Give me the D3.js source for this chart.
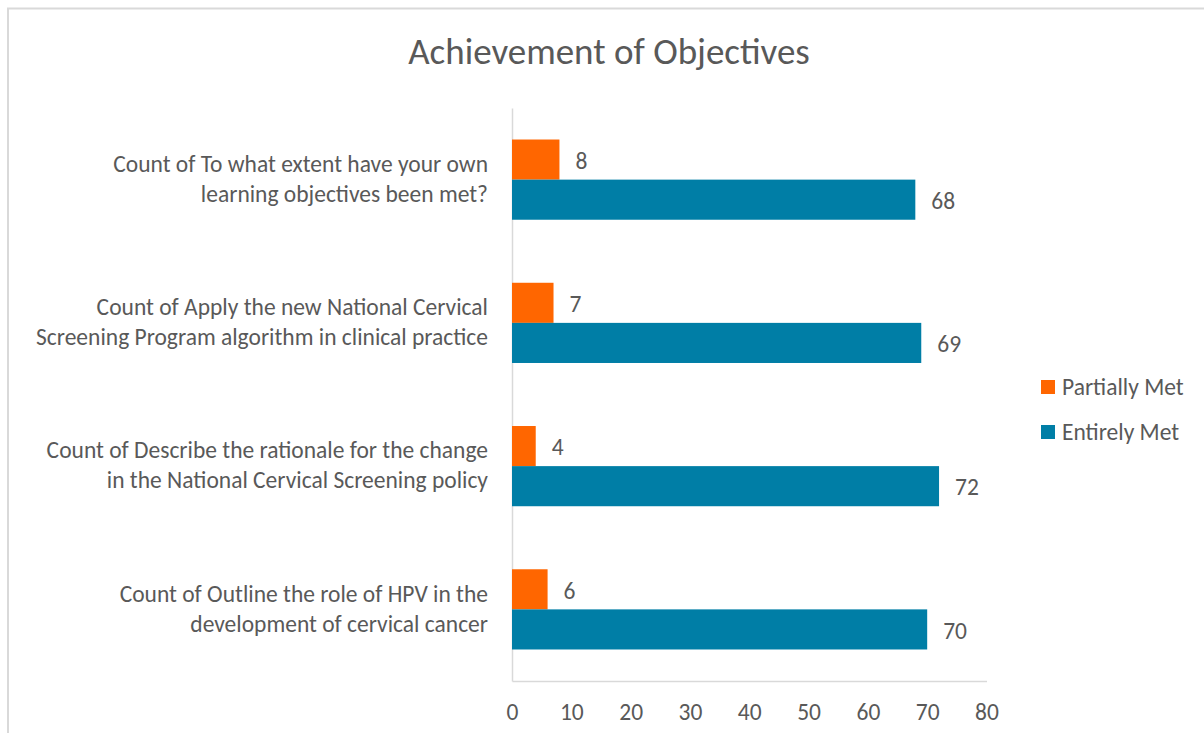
<!DOCTYPE html>
<html>
<head>
<meta charset="utf-8">
<script src="https://cdn.jsdelivr.net/npm/d3@7"></script>
<style>
  html, body { margin: 0; padding: 0; background: #fff; overflow: hidden; }
  svg { display: block; font-family: Calibri, Carlito, Lato, sans-serif; }
</style>
</head>
<body>
<div class="chart-container"></div>
<script>
// data
const categories = [
    "Count of To what extent have your own|learning objectives been met?",
    "Count of Apply the new National Cervical|Screening Program algorithm in clinical practice",
    "Count of Describe the rationale for the change|in the National Cervical Screening policy",
    "Count of Outline the role of HPV in the|development of cervical cancer"
];
const seriesNames = ["Partially Met", "Entirely Met"];
const partiallyMet = [8, 7, 4, 6];
const entirelyMet = [68, 69, 72, 70];
const xTickValues = [0, 10, 20, 30, 40, 50, 60, 70, 80];
const chartTitle = "Achievement of Objectives";

function drawChart() {
    const width = 1204,
        height = 733;
    const margin = { top: 108, right: 218, bottom: 52, left: 512 };
    const colors = ["#ff6600", "#007ea6"];
    const textColor = "#595959";
    const lineColor = "#d9d9d9";
    const fontSize = "23.5px";

    const data = categories.map((c, i) => ({
        name: c,
        values: [partiallyMet[i], entirelyMet[i]]
    }));

    const svg = d3.select(".chart-container").append("svg")
        .attr("width", width)
        .attr("height", height);

    // chart area border (runs off the right and bottom edges)
    svg.append("rect")
        .attr("x", 8)
        .attr("y", 8.5)
        .attr("width", 1300)
        .attr("height", 900)
        .attr("fill", "#fff")
        .attr("stroke", lineColor)
        .attr("stroke-width", 2);

    svg.append("text")
        .attr("x", 609)
        .attr("y", 64)
        .attr("text-anchor", "middle")
        .attr("fill", textColor)
        .style("font-size", "37px")
        .text(chartTitle);

    const x = d3.scaleLinear()
        .domain([0, 80])
        .range([margin.left, width - margin.right + 0.5]);

    const y = d3.scaleBand()
        .domain(d3.range(data.length))
        .range([margin.top, height - margin.bottom])
        .paddingInner(0.44)
        .paddingOuter(0.22);

    const ySub = d3.scaleBand()
        .domain(d3.range(seriesNames.length))
        .range([0, y.bandwidth()]);

    const xAxis = g =>
        g.attr("transform", `translate(0, ${height - margin.bottom})`)
        .call(d3.axisBottom(x).tickValues(xTickValues).tickSize(0).tickPadding(22))
        .call(g => g.select(".domain").attr("stroke", lineColor).attr("stroke-width", 1.5))
        .call(g => g.selectAll("text")
            .attr("fill", textColor)
            .style("font-size", fontSize)
            .style("font-family", "Calibri, Carlito, Lato, sans-serif"));

    const yAxis = g =>
        g.attr("transform", `translate(${margin.left}, 0)`)
        .call(d3.axisLeft(y).tickSize(0).tickFormat(""))
        .call(g => g.select(".domain").attr("stroke", lineColor).attr("stroke-width", 1.5));

    svg.append("g").call(xAxis);
    svg.append("g").call(yAxis);

    // wrapped category labels
    const labels = svg.append("g").selectAll("text")
        .data(data)
        .join("text")
            .attr("text-anchor", "end")
            .attr("fill", textColor)
            .style("font-size", fontSize)
            .attr("transform", (d, i) => `translate(488, ${y(i) + y.bandwidth() / 2})`);

    labels.selectAll("tspan")
        .data(d => d.name.split("|"))
        .join("tspan")
            .attr("x", 0)
            .attr("y", (t, j) => (j - 0.5) * 30 - 1)
            .attr("dy", "0.35em")
            .text(t => t);

    const groups = svg.append("g").selectAll("g")
        .data(data)
        .join("g")
            .attr("transform", (d, i) => `translate(0, ${y(i)})`);

    groups.selectAll("rect")
        .data(d => d.values)
        .join("rect")
            .attr("x", x(0))
            .attr("y", (v, j) => ySub(j))
            .attr("width", v => x(v) - x(0))
            .attr("height", ySub.bandwidth())
            .attr("fill", (v, j) => colors[j]);

    groups.selectAll("text")
        .data(d => d.values)
        .join("text")
            .attr("x", v => x(v) + 16)
            .attr("y", (v, j) => ySub(j) + ySub.bandwidth() / 2 + 1)
            .attr("dy", "0.35em")
            .attr("fill", textColor)
            .style("font-size", fontSize)
            .text(v => v);

    // legend
    const legend = svg.append("g").selectAll("g")
        .data(seriesNames)
        .join("g")
            .attr("transform", (d, i) => `translate(1041, ${387 + i * 45})`);

    legend.append("rect")
        .attr("x", 0)
        .attr("y", -7)
        .attr("width", 14)
        .attr("height", 14)
        .attr("fill", (d, i) => colors[i]);

    legend.append("text")
        .attr("x", 21)
        .attr("y", 0)
        .attr("dy", "0.35em")
        .attr("fill", textColor)
        .style("font-size", fontSize)
        .text(d => d);
}

drawChart();
</script>
</body>
</html>
